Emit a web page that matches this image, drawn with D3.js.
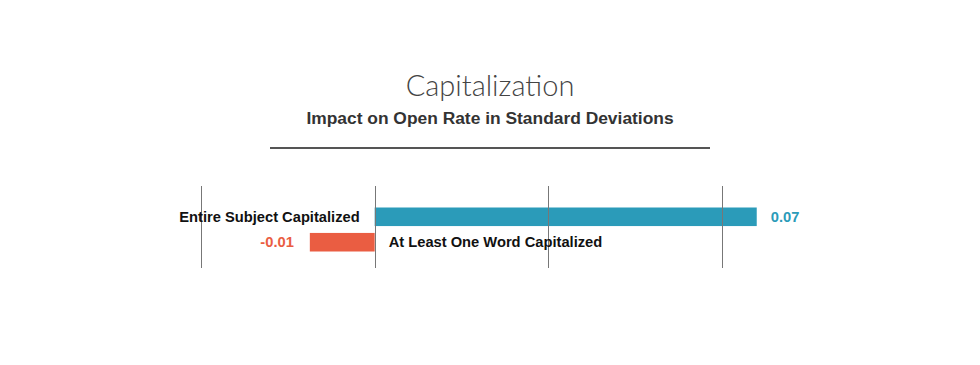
<!DOCTYPE html>
<html>
<head>
  <meta charset="utf-8">
  <title>Capitalization</title>
  <script src="https://d3js.org/d3.v7.min.js"></script>
  <style>
    body { margin: 0; background: white; }
    .title { font-family: Lato, "Open Sans", sans-serif; font-weight: 300; fill: #444; }
    .subtitle { font-family: "Liberation Sans", Arial, sans-serif; font-weight: bold; fill: #333; }
    .label { font-family: "Liberation Sans", Arial, sans-serif; font-weight: bold; font-size: 14.7px; }
  </style>
</head>
<body>
<script>
  // Data
  var categories = ["Entire Subject Capitalized", "At Least One Word Capitalized"];
  var values = [0.066, -0.0112];
  var valueLabels = ["0.07", "-0.01"];
  var gridTicks = [-0.03, 0, 0.03, 0.06];

  var width = 980, height = 365;
  var posColor = "#2b9bb9", negColor = "#ea5d42";

  var svg = d3.select("body").append("svg")
      .attr("width", width)
      .attr("height", height);

  // Titles
  svg.append("text")
      .attr("class", "title")
      .attr("x", 490).attr("y", 96)
      .attr("text-anchor", "middle")
      .style("font-size", "29px")
      .text("Capitalization");

  svg.append("text")
      .attr("class", "subtitle")
      .attr("x", 490).attr("y", 124)
      .attr("text-anchor", "middle")
      .style("font-size", "17.4px")
      .text("Impact on Open Rate in Standard Deviations");

  svg.append("line")
      .attr("x1", 270).attr("x2", 710)
      .attr("y1", 148).attr("y2", 148)
      .attr("stroke", "#555")
      .attr("stroke-width", 2);

  // Scales
  var x = d3.scaleLinear().domain([-0.03, 0.06]).range([201, 722]);
  var y = d3.scaleBand().domain(categories).range([207.5, 251.5]).paddingInner(0.27);

  var data = categories.map(function(c, i) {
    return {cat: c, value: values[i], label: valueLabels[i]};
  });

  // Bars
  svg.selectAll(".bar")
      .data(data)
      .enter().append("rect")
      .attr("class", "bar")
      .attr("x", function(d) { return x(Math.min(0, d.value)); })
      .attr("y", function(d) { return y(d.cat); })
      .attr("width", function(d) { return Math.abs(x(d.value) - x(0)); })
      .attr("height", y.bandwidth())
      .attr("fill", function(d) { return d.value >= 0 ? posColor : negColor; });

  // Grid lines (on top of bars)
  svg.selectAll(".grid")
      .data(gridTicks)
      .enter().append("line")
      .attr("class", "grid")
      .attr("x1", function(d) { return Math.round(x(d)) + 0.5; })
      .attr("x2", function(d) { return Math.round(x(d)) + 0.5; })
      .attr("y1", 186).attr("y2", 268)
      .attr("stroke", "#777")
      .attr("stroke-width", 1);

  // Category labels: opposite side of zero from the bar
  svg.selectAll(".cat")
      .data(data)
      .enter().append("text")
      .attr("class", "label cat")
      .attr("x", function(d) { return d.value >= 0 ? x(0) - 15 : x(0) + 14; })
      .attr("y", function(d) { return y(d.cat) + y.bandwidth() / 2; })
      .attr("dy", "0.35em")
      .attr("text-anchor", function(d) { return d.value >= 0 ? "end" : "start"; })
      .attr("fill", "#111")
      .text(function(d) { return d.cat; });

  // Value labels at bar end
  svg.selectAll(".val")
      .data(data)
      .enter().append("text")
      .attr("class", "label val")
      .attr("x", function(d) { return d.value >= 0 ? x(d.value) + 14 : x(d.value) - 16; })
      .attr("y", function(d) { return y(d.cat) + y.bandwidth() / 2; })
      .attr("dy", "0.35em")
      .attr("text-anchor", function(d) { return d.value >= 0 ? "start" : "end"; })
      .attr("fill", function(d) { return d.value >= 0 ? posColor : negColor; })
      .text(function(d) { return d.label; });
</script>
</body>
</html>
